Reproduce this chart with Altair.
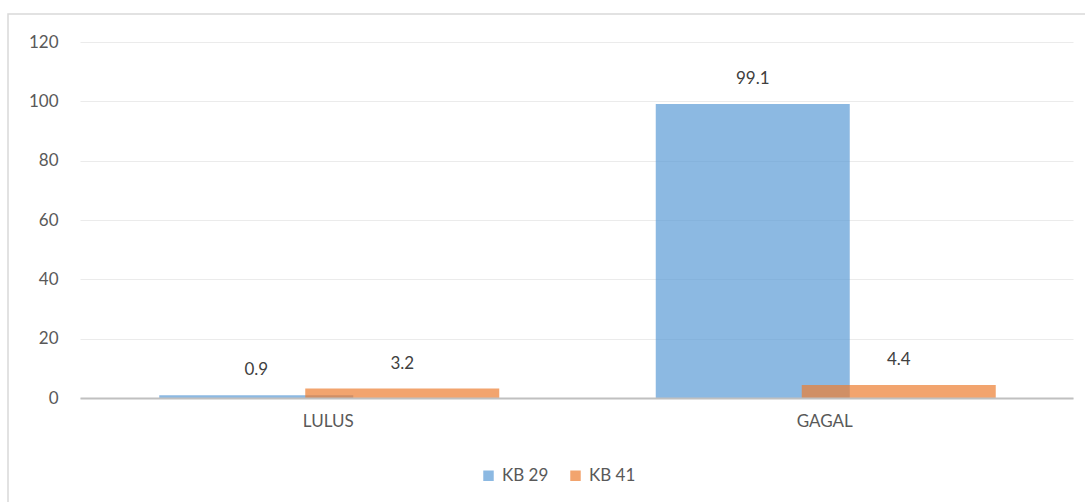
import altair as alt
import pandas as pd

# Pass rates (%) per outcome for each batch
categories = ["LULUS", "GAGAL"]
kb29 = [0.9, 99.1]
kb41 = [3.2, 4.4]
series = ["KB 29", "KB 41"]
y_ticks = [0, 20, 40, 60, 80, 100, 120]

rows = []
for i, c in enumerate(categories):
    rows.append({"kategori": c, "seri": "KB 29", "nilai": kb29[i]})
    rows.append({"kategori": c, "seri": "KB 41", "nilai": kb41[i]})
df = pd.DataFrame(rows)

TEXT = "#595959"
FONT = "Lato"
FS = 17

x_enc = alt.X(
    "kategori:N",
    sort=categories,
    title=None,
    scale=alt.Scale(paddingInner=0, paddingOuter=0),
    axis=alt.Axis(
        labelAngle=0, labelFontSize=FS, labelColor=TEXT, labelFont=FONT,
        ticks=False, domainColor="#c0c0c0", domainWidth=2, labelPadding=15,
        grid=False, zindex=1,
    ),
)
y_enc = alt.Y(
    "nilai:Q",
    title=None,
    scale=alt.Scale(domain=[0, 120], nice=False),
    axis=alt.Axis(
        values=y_ticks, labelFontSize=FS, labelColor=TEXT, labelFont=FONT,
        ticks=False, domain=False, gridColor="#ebebeb", labelPadding=22,
        zindex=0,
    ),
)
color_enc = alt.Color(
    "seri:N",
    scale=alt.Scale(domain=series, range=["#5B9BD5", "#ED7D31"]),
    legend=alt.Legend(
        title=None, orient="none", direction="horizontal",
        legendX=400, legendY=425, symbolType="square", symbolSize=110,
        symbolOpacity=0.7, symbolStrokeWidth=0, labelFontSize=FS,
        labelColor=TEXT, labelFont=FONT, columnPadding=18, labelOffset=5,
    ),
)

base = alt.Chart(df)

# Frame around the chart area (no fill, so the axes and grid stay visible)
frame = alt.Chart(pd.DataFrame({"k": [0]})).mark_rect(
    fill=None, stroke="#d9d9d9", strokeWidth=1.5
).encode(
    x=alt.value(-72), x2=alt.value(1100),
    y=alt.value(-28), y2=alt.value(500),
)

offsets = {"KB 29": -72, "KB 41": 74}
layers = [frame]
for s in series:
    sub = base.transform_filter(alt.datum.seri == s)
    bars = sub.mark_bar(
        width=194, xOffset=offsets[s], opacity=0.7
    ).encode(x=x_enc, y=y_enc, color=color_enc)
    labels = sub.mark_text(
        xOffset=offsets[s], dy=-25, baseline="middle", fontSize=FS,
        color="#404040", font=FONT,
    ).encode(x=x_enc, y=y_enc, text=alt.Text("nilai:Q", format=".1f"))
    layers += [bars, labels]

chart = alt.layer(*layers).properties(
    width=993, height=356,
    autosize=alt.AutoSizeParams(type="none"),
    padding={"left": 80, "top": 42, "right": 12, "bottom": 104},
    background="white",
).configure_view(stroke=None)

chart.save("out.html", embed_options={"renderer": "svg", "actions": False})
